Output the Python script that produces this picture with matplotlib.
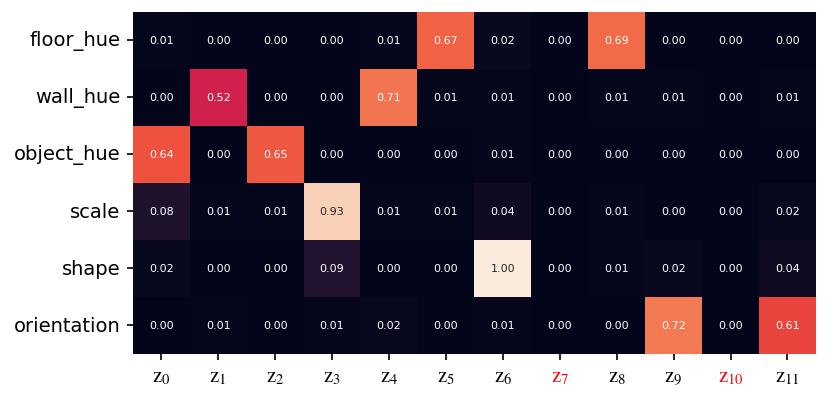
import numpy as np
import matplotlib
matplotlib.use("Agg")
import matplotlib.pyplot as plt
import seaborn as sns

factors = ["floor_hue", "wall_hue", "object_hue", "scale", "shape", "orientation"]
latents = [r"$\mathrm{z}_{%d}$" % i for i in range(12)]
inactive = [7, 10]

floor_hue = [0.01, 0.00, 0.00, 0.00, 0.01, 0.67, 0.02, 0.00, 0.69, 0.00, 0.00, 0.00]
wall_hue = [0.00, 0.52, 0.00, 0.00, 0.71, 0.01, 0.01, 0.00, 0.01, 0.01, 0.00, 0.01]
object_hue = [0.64, 0.00, 0.65, 0.00, 0.00, 0.00, 0.01, 0.00, 0.00, 0.00, 0.00, 0.00]
scale = [0.08, 0.01, 0.01, 0.93, 0.01, 0.01, 0.04, 0.00, 0.01, 0.00, 0.00, 0.02]
shape = [0.02, 0.00, 0.00, 0.09, 0.00, 0.00, 1.00, 0.00, 0.01, 0.02, 0.00, 0.04]
orientation = [0.00, 0.01, 0.00, 0.01, 0.02, 0.00, 0.01, 0.00, 0.00, 0.72, 0.00, 0.61]

matrix = np.array([floor_hue, wall_hue, object_hue, scale, shape, orientation])

plt.rcParams['mathtext.fontset'] = 'stix'

fig = plt.figure(figsize=(8.3, 4.02), dpi=100)
ax = fig.add_axes([0.160, 0.117, 0.823, 0.851])
sns.heatmap(matrix, ax=ax, cmap="rocket", vmin=0, vmax=1, cbar=False,
            annot=True, fmt=".2f", annot_kws={"fontsize": 8},
            xticklabels=latents, yticklabels=factors)
ax.tick_params(axis='y', labelsize=14, rotation=0, length=4, width=1.2,
               left=True, color='black', pad=5)
ax.tick_params(axis='x', labelsize=15, rotation=0, length=4, width=1.2,
               bottom=True, color='black', pad=5)
for i, lbl in enumerate(ax.get_xticklabels()):
    if i in inactive:
        lbl.set_color("red")

fig.savefig("out.png", dpi=100)
